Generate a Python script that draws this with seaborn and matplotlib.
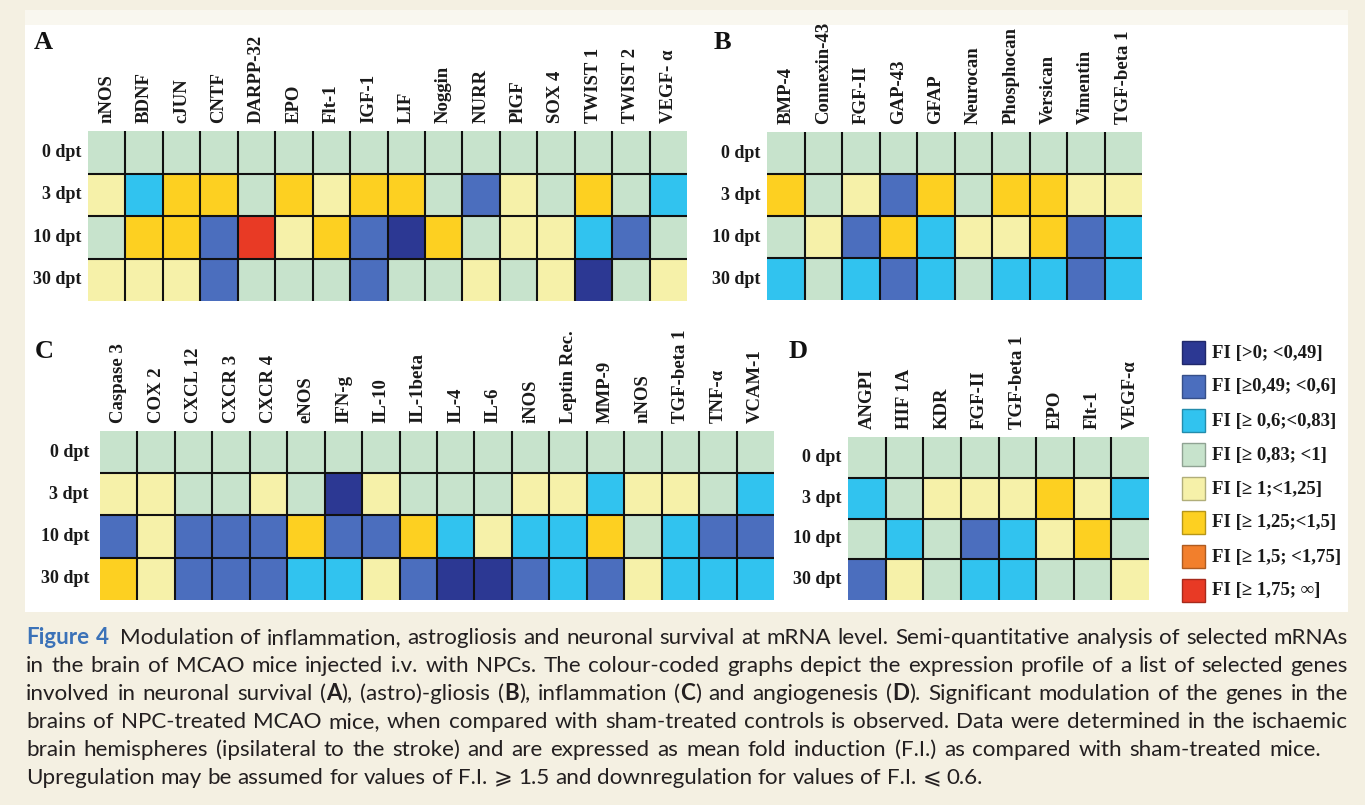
import numpy as np
import pandas as pd
import matplotlib
matplotlib.use("Agg")
import matplotlib.pyplot as plt
from matplotlib.colors import ListedColormap
from matplotlib.patches import Rectangle
import seaborn as sns

W, H = 1365, 805

# ---------------- data (category index of fold induction) ----------------
rows = ["0 dpt", "3 dpt", "10 dpt", "30 dpt"]

genes_a = ["nNOS", "BDNF", "cJUN", "CNTF", "DARPP-32", "EPO", "Flt-1", "IGF-1",
           "LIF", "Noggin", "NURR", "PlGF", "SOX 4", "TWIST 1", "TWIST 2", "VEGF- α"]
a_0dpt = [3, 3, 3, 3, 3, 3, 3, 3, 3, 3, 3, 3, 3, 3, 3, 3]
a_3dpt = [4, 2, 5, 5, 3, 5, 4, 5, 5, 3, 1, 4, 3, 5, 3, 2]
a_10dpt = [3, 5, 5, 1, 7, 4, 5, 1, 0, 5, 3, 4, 4, 2, 1, 3]
a_30dpt = [4, 4, 4, 1, 3, 3, 3, 1, 3, 3, 4, 3, 4, 0, 3, 4]

genes_b = ["BMP-4", "Connexin-43", "FGF-II", "GAP-43", "GFAP", "Neurocan",
           "Phosphocan", "Versican", "Vimentin", "TGF-beta 1"]
b_0dpt = [3, 3, 3, 3, 3, 3, 3, 3, 3, 3]
b_3dpt = [5, 3, 4, 1, 5, 3, 5, 5, 4, 4]
b_10dpt = [3, 4, 1, 5, 2, 4, 4, 5, 1, 2]
b_30dpt = [2, 3, 2, 1, 2, 3, 2, 2, 1, 2]

genes_c = ["Caspase 3", "COX 2", "CXCL 12", "CXCR 3", "CXCR 4", "eNOS", "IFN-g",
           "IL-10", "IL-1beta", "IL-4", "IL-6", "iNOS", "Leptin Rec.", "MMP-9",
           "nNOS", "TGF-beta 1", "TNF-α", "VCAM-1"]
c_0dpt = [3, 3, 3, 3, 3, 3, 3, 3, 3, 3, 3, 3, 3, 3, 3, 3, 3, 3]
c_3dpt = [4, 4, 3, 3, 4, 3, 0, 4, 3, 3, 3, 4, 4, 2, 4, 4, 3, 2]
c_10dpt = [1, 4, 1, 1, 1, 5, 1, 1, 5, 2, 4, 2, 2, 5, 3, 2, 1, 1]
c_30dpt = [5, 4, 1, 1, 1, 2, 2, 4, 1, 0, 0, 1, 2, 1, 4, 2, 2, 2]

genes_d = ["ANGPI", "HIF 1A", "KDR", "FGF-II", "TGF-beta 1", "EPO", "Flt-1", "VEGF-α"]
d_0dpt = [3, 3, 3, 3, 3, 3, 3, 3]
d_3dpt = [2, 3, 4, 4, 4, 5, 4, 2]
d_10dpt = [3, 2, 3, 1, 2, 4, 5, 3]
d_30dpt = [1, 4, 3, 2, 2, 3, 3, 4]

legend_labels = ["FI [>0; <0,49]", "FI [≥0,49; <0,6]", "FI [≥ 0,6;<0,83]",
                 "FI [≥ 0,83; <1]", "FI [≥ 1;<1,25]", "FI [≥ 1,25;<1,5]",
                 "FI [≥ 1,5; <1,75]", "FI [≥ 1,75; ∞]"]
palette = ["#2c3893", "#4b6ebe", "#31c3ef", "#c7e3cc",
           "#f6f1a9", "#fdd021", "#f27f2c", "#e83a25"]

caption = [
    "#Figure 4#  Modulation of inflammation, astrogliosis and neuronal survival at mRNA level. Semi-quantitative analysis of selected mRNAs",
    "in the brain of MCAO mice injected i.v. with NPCs. The colour-coded graphs depict the expression profile of a list of selected genes",
    "involved in neuronal survival (*A*), (astro)-gliosis (*B*), inflammation (*C*) and angiogenesis (*D*). Significant modulation of the genes in the",
    "brains of NPC-treated MCAO mice, when compared with sham-treated controls is observed. Data were determined in the ischaemic",
    "brain hemispheres (ipsilateral to the stroke) and are expressed as mean fold induction (F.I.) as compared with sham-treated mice.",
    "Upregulation may be assumed for values of F.I. ⩾ 1.5 and downregulation for values of F.I. ⩽ 0.6.",
]

# ---------------- figure ----------------
SERIF = ["Liberation Serif", "DejaVu Serif"]
SANS = ["Lato", "DejaVu Sans"]
cmap = ListedColormap(palette)

fig = plt.figure(figsize=(W / 100, H / 100), dpi=100)
fig.patch.set_facecolor("#f4f0e2")


def px_rect(x0, y0, x1, y1):
    return [x0 / W, 1 - y1 / H, (x1 - x0) / W, (y1 - y0) / H]


fig.patches.append(Rectangle((25 / W, 1 - 25 / H), (1348 - 25) / W, 15 / H,
                             transform=fig.transFigure, facecolor="#f9f7ef",
                             edgecolor="none", zorder=-2))
fig.patches.append(Rectangle((25 / W, 1 - 612 / H), (1348 - 25) / W, (612 - 25) / H,
                             transform=fig.transFigure, facecolor="white",
                             edgecolor="none", zorder=-1))


def panel(rect, genes, data, letter, lxy, ypad):
    ax = fig.add_axes(px_rect(*rect))
    df = pd.DataFrame(data, index=rows, columns=genes)
    sns.heatmap(df, ax=ax, cmap=cmap, vmin=-0.5, vmax=7.5, cbar=False,
                xticklabels=True, yticklabels=True)
    ncol = len(genes)
    for i in range(1, ncol):
        ax.axvline(i, color="#111111", lw=1.5)
    for j in range(1, len(rows)):
        ax.axhline(j, color="#111111", lw=1.5)
    ax.xaxis.tick_top()
    ax.tick_params(axis="x", length=0, pad=6, top=True, bottom=False,
                   labeltop=True, labelbottom=False)
    ax.tick_params(axis="y", length=0, pad=ypad)
    ax.set_xticklabels(genes, rotation=90, ha="center", va="bottom",
                       fontfamily=SERIF, fontweight="bold", fontsize=13.5,
                       color="#1a1a1a")
    ax.set_yticklabels(rows, rotation=0, ha="right", va="center",
                       fontfamily=SERIF, fontweight="bold", fontsize=13,
                       color="#1a1a1a")
    ax.set_xlabel("")
    ax.set_ylabel("")
    fig.text(lxy[0] / W, 1 - lxy[1] / H, letter, fontfamily=SERIF,
             fontweight="bold", fontsize=19, color="#111111", va="baseline")
    return ax


panel((88, 131, 687, 301), genes_a, [a_0dpt, a_3dpt, a_10dpt, a_30dpt], "A", (34, 49), 5)
panel((767, 132, 1142, 300), genes_b, [b_0dpt, b_3dpt, b_10dpt, b_30dpt], "B", (714, 49), 4.5)
panel((100, 431, 774, 600), genes_c, [c_0dpt, c_3dpt, c_10dpt, c_30dpt], "C", (35, 358), 8)
panel((848, 437, 1149, 600), genes_d, [d_0dpt, d_3dpt, d_10dpt, d_30dpt], "D", (789, 358), 5)

# ---------------- legend ----------------
for i, (lab, col) in enumerate(zip(legend_labels, palette)):
    top = 341 + 34 * i
    rgb = np.array(matplotlib.colors.to_rgb(col)) * 0.72
    fig.patches.append(Rectangle((1182 / W, 1 - (top + 23) / H), 23 / W, 23 / H,
                                 transform=fig.transFigure, facecolor=col,
                                 edgecolor=rgb, lw=1.0, zorder=3))
    fig.text(1212 / W, 1 - (top + 12) / H, lab, fontfamily=SERIF, fontweight="bold",
             fontsize=13.5, color="#1a1a1a", va="center", ha="left")

# ---------------- caption (justified) ----------------
STYLES = {"n": dict(color="#231f20", fontweight="normal"),
          "b": dict(color="#231f20", fontweight="bold"),
          "f": dict(color="#3b72b8", fontweight="bold")}


def parse(line):
    words, cur, style = [], [], "n"
    for ch in line:
        if ch == "#":
            style = "n" if style == "f" else "f"
            continue
        if ch == "*":
            style = "n" if style == "b" else "b"
            continue
        if ch == " ":
            if cur:
                words.append(cur)
                cur = []
            continue
        if cur and cur[-1][1] == style:
            cur[-1] = (cur[-1][0] + ch, style)
        else:
            cur.append((ch, style))
    if cur:
        words.append(cur)
    return words


renderer = fig.canvas.get_renderer()


def text_width(s, st, fs):
    t = fig.text(0, 0, s, fontfamily=SANS, fontsize=fs, **STYLES[st])
    w = t.get_window_extent(renderer=renderer).width
    t.remove()
    return w


base_fs = 14.0
parsed = [parse(l) for l in caption]
targets = [1322, 1322, 1322, 1322, 1295, None]
space0 = text_width("a a", "n", base_fs) - text_width("aa", "n", base_fs)
seg_w = [[[text_width(s, st, base_fs) for s, st in w] for w in words] for words in parsed]
ratios = []
for words, ws, tgt in zip(parsed, seg_w, targets):
    if tgt is None:
        continue
    nat = sum(sum(x) for x in ws) + space0 * (len(words) - 1)
    ratios.append(tgt / nat)
scale = min(min(ratios) * 0.99, 1.3)
fs = base_fs * scale
space = space0 * scale

x_left = 26
baselines = [644, 672, 700, 728, 756, 784]
for li, (words, ws, tgt, yb) in enumerate(zip(parsed, seg_w, targets, baselines)):
    wsum = sum(sum(x) for x in ws) * scale
    extra = space * 0.8 if li == 0 else 0.0
    if tgt is None:
        gap = space
    else:
        gap = (tgt - wsum - extra) / (len(words) - 1)
    x = x_left
    for k, (w, wl) in enumerate(zip(words, ws)):
        for (s, st), sw in zip(w, wl):
            fig.text(x / W, 1 - yb / H, s, fontfamily=SANS, fontsize=fs,
                     va="baseline", ha="left", **STYLES[st])
            x += sw * scale
        x += gap
        if li == 0 and k == 1:
            x += extra

fig.savefig("out.png", dpi=100, facecolor=fig.get_facecolor())
